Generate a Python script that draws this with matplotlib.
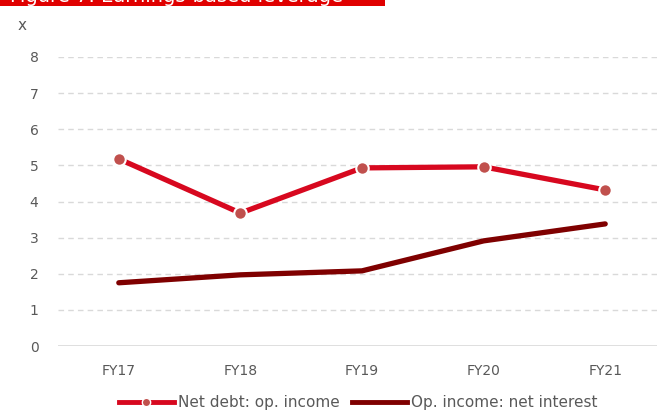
import matplotlib
matplotlib.use("Agg")
import matplotlib.pyplot as plt
from matplotlib.patches import Rectangle
from matplotlib.lines import Line2D

plt.rcParams['font.family'] = ['DejaVu Sans']

years = ['FY17', 'FY18', 'FY19', 'FY20', 'FY21']
net_debt_op_income = [5.18, 3.68, 4.93, 4.96, 4.32]
op_income_net_interest = [1.75, 1.97, 2.08, 2.91, 3.38]

red = '#d7081f'
dark_red = '#7f0000'
marker_red = '#c0504d'
grey_text = '#595959'

W, H = 657, 412
fig = plt.figure(figsize=(W / 100, H / 100), dpi=100)

# title band, cut off at the top like the source
fig.patches.append(Rectangle((0, 1 - 6 / H), 385 / W, 6 / H, transform=fig.transFigure,
                             facecolor='#e00000', edgecolor='none'))
fig.text(10 / W, 1 - 2 / H, 'Figure 7: Earnings-based leverage', color='white',
         fontsize=14, ha='left', va='baseline')

ax = fig.add_axes([58 / W, (H - 346) / H, (666 - 58) / W, (346 - 57) / H])
x = range(len(years))

ax.plot(x, op_income_net_interest, color=dark_red, lw=3.8, solid_capstyle='round', zorder=3)
ax.plot(x, net_debt_op_income, color=red, lw=3.8, marker='o', markersize=9,
        markerfacecolor=marker_red, markeredgecolor='white', markeredgewidth=1.5, zorder=4)

ax.set_xlim(-0.5, 4.5)
ax.set_ylim(0, 8)
ax.set_yticks(range(0, 9))
ax.set_xticks(list(x))
ax.set_xticklabels(years)
ax.tick_params(axis='both', length=0, labelsize=10, colors=grey_text)
ax.tick_params(axis='y', pad=14)
ax.tick_params(axis='x', pad=13)
for s in ax.spines.values():
    s.set_visible(False)
for v in range(1, 9):
    ax.axhline(v, color='#d9d9d9', lw=1, ls=(0, (4, 3)), zorder=1)
ax.axhline(0, color='#d9d9d9', lw=1.2, zorder=1)

fig.text(22 / W, 1 - 25 / H, 'x', color=grey_text, fontsize=11, ha='center', va='center')

handles = [
    Line2D([], [], color=red, lw=3.5, marker='o', markersize=6, markerfacecolor=marker_red,
           markeredgecolor='white', markeredgewidth=1),
    Line2D([], [], color=dark_red, lw=3.5),
]
fig.legend(handles, ['Net debt: op. income', 'Op. income: net interest'], loc='center',
           bbox_to_anchor=(358 / W, 1 - 403 / H), ncol=2, frameon=False, fontsize=11,
           labelcolor=grey_text, handlelength=3.6, handletextpad=0.25, columnspacing=0.8)

fig.savefig('out.png', dpi=100)
